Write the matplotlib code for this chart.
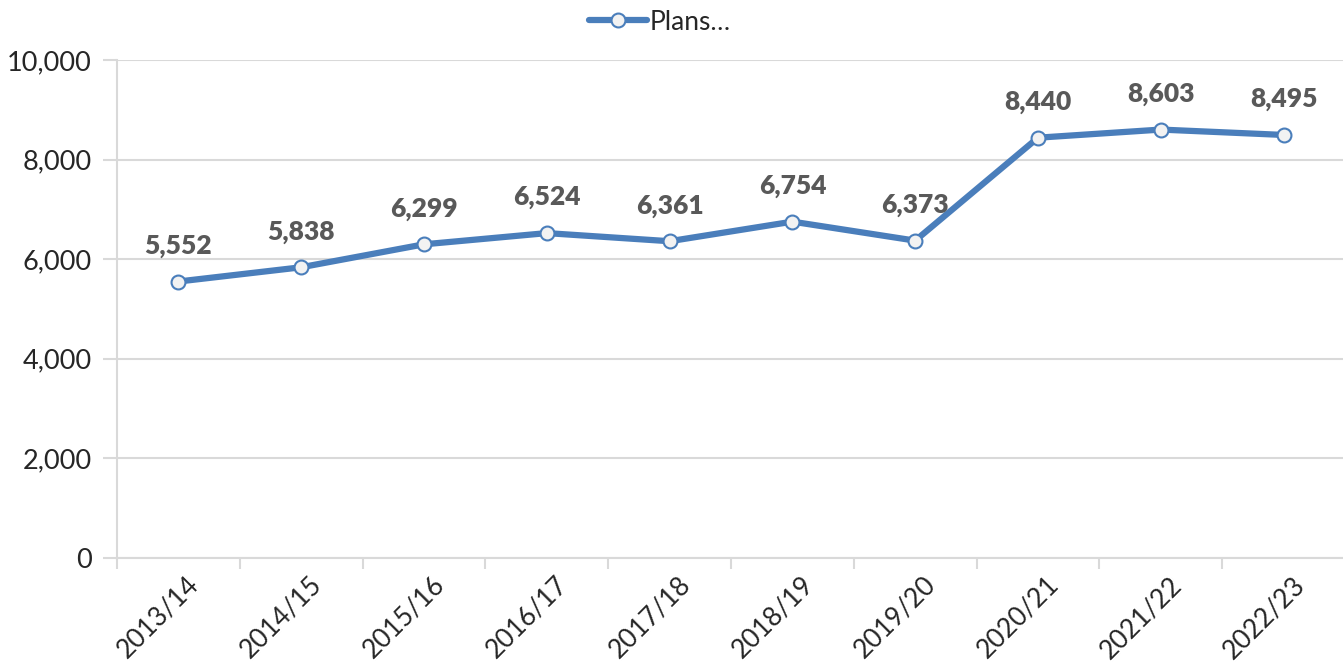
import matplotlib
matplotlib.use("Agg")
import matplotlib.pyplot as plt
import matplotlib.transforms as mtransforms
from matplotlib.ticker import FuncFormatter

categories = ["2013/14", "2014/15", "2015/16", "2016/17", "2017/18",
              "2018/19", "2019/20", "2020/21", "2021/22", "2022/23"]
plans = [5552, 5838, 6299, 6524, 6361, 6754, 6373, 8440, 8603, 8495]
series_name = "Plans\u2026"

plt.rcParams['font.family'] = ['Lato', 'DejaVu Sans']

fig = plt.figure(figsize=(13.43, 6.65), dpi=100)
ax = fig.add_axes([117/1343, 1 - 558/665, (1345-117)/1343, (558-60)/665])

x = list(range(len(categories)))
line_color = "#4a7ebb"
ax.plot(x, plans, color=line_color, linewidth=4.5, marker='o', markersize=10,
        markerfacecolor='#f2f2f2', markeredgecolor=line_color, markeredgewidth=1.5,
        label=series_name, zorder=3, solid_capstyle='round')

for xi, v in zip(x, plans):
    ax.annotate(f"{v:,}", (xi, v), xytext=(0, 17), textcoords='offset points',
                ha='center', va='bottom', fontsize=19, fontweight='heavy', color='#595959')

ax.set_xlim(-0.5, len(categories) - 0.5)
ax.set_ylim(0, 10000)
ax.set_yticks(range(0, 10001, 2000))
ax.yaxis.set_major_formatter(FuncFormatter(lambda v, p: f"{int(v):,}"))
ax.set_xticks([i - 0.5 for i in range(len(categories) + 1)], minor=False)
ax.set_xticklabels([""] * (len(categories) + 1))
ax.set_xticks(x, minor=True)
ax.set_xticklabels(categories, minor=True, rotation=45, ha='right',
                   rotation_mode='anchor', fontsize=19, color='#262626')
ax.tick_params(axis='x', which='minor', length=0, pad=10)
ax.tick_params(axis='x', which='major', length=8, color='#d9d9d9', width=1.5)
ax.tick_params(axis='y', length=10, color='#d9d9d9', width=1.5, labelsize=19.5,
               labelcolor='#262626', pad=8)
offset = mtransforms.ScaledTranslation(8/100, 0, fig.dpi_scale_trans)
for lab in ax.get_xticklabels(minor=True):
    lab.set_transform(lab.get_transform() + offset)

ax.grid(axis='y', color='#d9d9d9', linewidth=1.5, zorder=0)
for s in ['top', 'right']:
    ax.spines[s].set_visible(False)
for s in ['left', 'bottom']:
    ax.spines[s].set_color('#d9d9d9')
    ax.spines[s].set_linewidth(1.5)

leg = fig.legend(loc='center', bbox_to_anchor=(660/1343, 1 - 22/665), frameon=False,
                 fontsize=19, handlelength=2.2, handletextpad=0.1)
for t in leg.get_texts():
    t.set_color('#262626')

fig.savefig("out.png", dpi=100)
